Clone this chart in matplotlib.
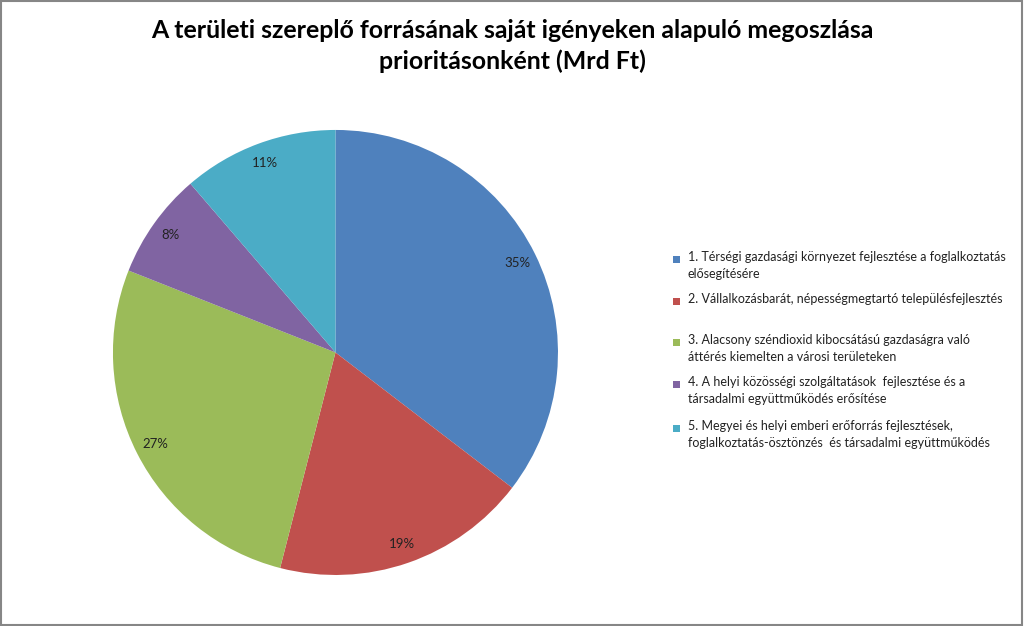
import matplotlib.pyplot as plt
from matplotlib.patches import Rectangle

title = "A területi szereplő forrásának saját igényeken alapuló megoszlása\nprioritásonként (Mrd Ft)"
labels = [
    "1. Térségi gazdasági környezet fejlesztése a foglalkoztatás\nelősegítésére",
    "2. Vállalkozásbarát, népességmegtartó településfejlesztés",
    "3. Alacsony széndioxid kibocsátású gazdaságra való\náttérés kiemelten a városi területeken",
    "4. A helyi közösségi szolgáltatások  fejlesztése és a\ntársadalmi együttműködés erősítése",
    "5. Megyei és helyi emberi erőforrás fejlesztések,\nfoglalkoztatás-ösztönzés  és társadalmi együttműködés",
]
values = [35.4, 18.6, 27.0, 7.7, 11.3]
colors = ["#4F81BD", "#C0504D", "#9BBB59", "#8064A2", "#4BACC6"]

plt.rcParams['font.family'] = ['Lato', 'DejaVu Sans']

fig = plt.figure(figsize=(10.24, 6.26), dpi=100)
fig.patches.append(Rectangle((0.001, 0.002), 0.997, 0.996, transform=fig.transFigure,
                             fill=False, edgecolor="#868686", linewidth=1.5))

ax = fig.add_axes([0.1103, 0.0815, 0.4346, 0.7109])
wedges, texts, autotexts = ax.pie(values, colors=colors, startangle=90, counterclock=False,
                                  autopct='%.0f%%', pctdistance=0.91,
                                  textprops={'fontsize': 9.5, 'color': '#222222'})
ax.set_xlim(-1, 1)
ax.set_ylim(-1, 1)
ax.set_aspect('equal')

fig.text(0.5, 1 - 19 / 626, title, ha='center', va='top', fontsize=17.9, fontweight='bold',
         linespacing=1.38)

# legend drawn by hand so the marker sits on the first line
ys = [259, 301, 342, 384, 428]
for lab, col, y in zip(labels, colors, ys):
    fy = 1 - y / 626
    fig.patches.append(Rectangle((673 / 1024, fy - 3.5 / 626), 7 / 1024, 7 / 626,
                                 transform=fig.transFigure, facecolor=col, edgecolor='none'))
    fig.text(688 / 1024, fy + 8 / 626, lab, ha='left', va='top', fontsize=9.0,
             color='#222222', linespacing=1.53)

fig.savefig("out.png", dpi=100)
